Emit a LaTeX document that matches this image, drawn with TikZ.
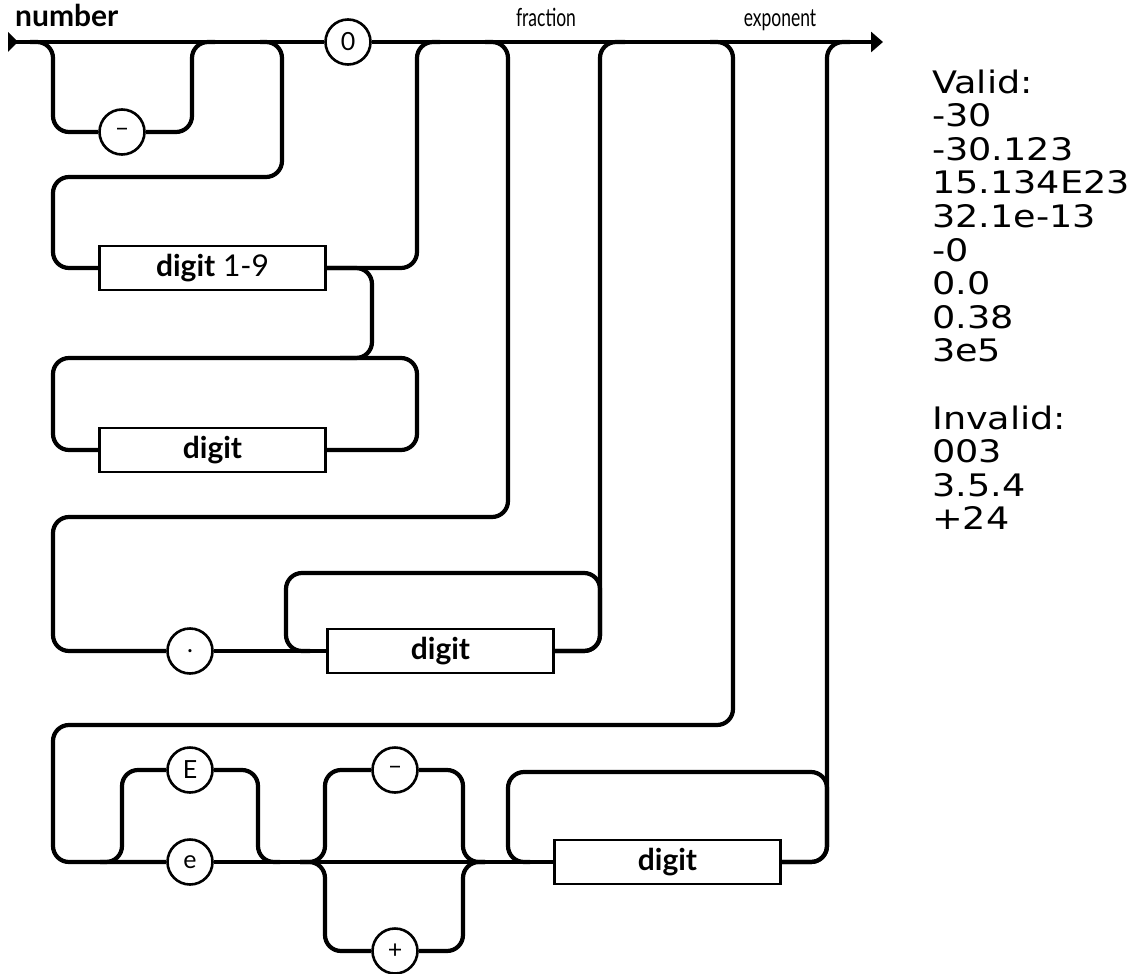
\documentclass[tikz,border=0pt]{standalone}
\usepackage{fontspec}
\setmainfont{Lato}
\newfontfamily\valfont{DejaVu Sans}
\usetikzlibrary{arrows.meta}
\begin{document}
\begin{tikzpicture}[x=1pt,y=-1pt,
  rail/.style={line width=4.2pt, rounded corners=16pt},
  term/.style={circle, draw, line width=2.6pt, minimum size=45pt, inner sep=0pt, fill=white,
    font=\fontsize{25}{25}\selectfont},
  nonterm/.style={rectangle, draw, line width=2.6pt, minimum width=226pt, minimum height=44pt,
    inner sep=0pt, fill=white, font=\fontsize{30}{30}\selectfont},
  lbl/.style={inner sep=0pt, anchor=base},
  valtext/.style={inner sep=0pt, anchor=base west, font=\valfont\fontsize{31}{31}\selectfont},
]
\useasboundingbox (0,0) rectangle (1138,974);

% nodes
\node[term] (zero) at (348,42) {0};
\node[term] (minus) at (122,132) {–};
\node[nonterm] (d19) at (212.5,268) {\textbf{digit} 1-9};
\node[nonterm] (dig1) at (212.5,450) {\textbf{digit}};
\node[term] (dot) at (190,651) {.};
\node[nonterm] (fd) at (440.5,651) {\textbf{digit}};
\node[term] (E) at (190,770) {E};
\node[term] (e) at (190,862) {e};
\node[term] (sm) at (395,770) {–};
\node[term] (sp) at (395,951) {+};
\node[nonterm] (dg) at (667.5,862) {\textbf{digit}};

\coordinate (start) at (8,42);
\coordinate (end) at (883,42);

% labels
\node[lbl, anchor=base west, font=\fontsize{30}{30}\selectfont\bfseries] (lnum) at (15,27) {number};
\node[lbl, font=\fontsize{25}{25}\selectfont] (lfrac) at (546,27) {\scalebox{0.7}[1]{fraction}};
\node[lbl, font=\fontsize{25}{25}\selectfont] (lexp) at (780,27) {\scalebox{0.7}[1]{exponent}};

% main line
\fill (start) ++(0,-10) -- ++(10,10) -- ++(-10,10) -- cycle;
\draw[rail] (start) -- (zero.west);
\draw[rail,-{Triangle[length=12pt,width=20pt]}] (zero.east) -- (end);

% integer part
\draw[rail] (30,42) -- (53,42) -- (53,132) -- (minus.west);
\draw[rail] (minus.east) -- (192,132) -- (192,42) -- (215,42);
\draw[rail] (260,42) -- (282,42) -- (282,177) -- (53,177) -- (53,268) -- (d19.west);
\draw[rail] (d19.east) -- (372,268) -- (372,358) -- (53,358) -- (53,450) -- (dig1.west);
\draw[rail] (d19.east) -- (417,268) -- (417,42) -- (440,42);
\draw[rail] (dig1.east) -- (417,450) -- (417,358) -- (340,358);

% fraction
\draw[rail] (485,42) -- (508,42) -- (508,517) -- (53,517) -- (53,651) -- (dot.west);
\draw[rail] (dot.east) -- (fd.west);
\draw[rail] (fd.east) -- (600,651) -- (600,573) -- (286,573) -- (286,651) -- (310,651);
\draw[rail] (fd.east) -- (600,651) -- (600,42) -- (625,42);

% exponent
\draw[rail] (710,42) -- (733,42) -- (733,725) -- (53,725) -- (53,862) -- (e.west);
\draw[rail] (100,862) -- (122,862) -- (122,770) -- (E.west);
\draw[rail] (E.east) -- (258,770) -- (258,862) -- (280,862);
\draw[rail] (e.east) -- (dg.west);
\draw[rail] (300,862) -- (325,862) -- (325,770) -- (sm.west);
\draw[rail] (sm.east) -- (463,770) -- (463,862) -- (485,862);
\draw[rail] (300,862) -- (325,862) -- (325,951) -- (sp.west);
\draw[rail] (sp.east) -- (463,951) -- (463,862) -- (485,862);
\draw[rail] (dg.east) -- (827,862) -- (827,772) -- (508,772) -- (508,862) -- (530,862);
\draw[rail] (dg.east) -- (827,862) -- (827,42) -- (850,42);

% examples
\foreach \t/\k in {Valid:/0, -30/1, -30.123/2, 15.134E23/3, 32.1e-13/4, -0/5, 0.0/6, 0.38/7, 3e5/8, Invalid:/10, 003/11, 3.5.4/12, +24/13}
  \node[valtext] (v\k) at (932, {93+33.6*\k}) {\scalebox{1.18}[1]{\t}};
\end{tikzpicture}
\end{document}
